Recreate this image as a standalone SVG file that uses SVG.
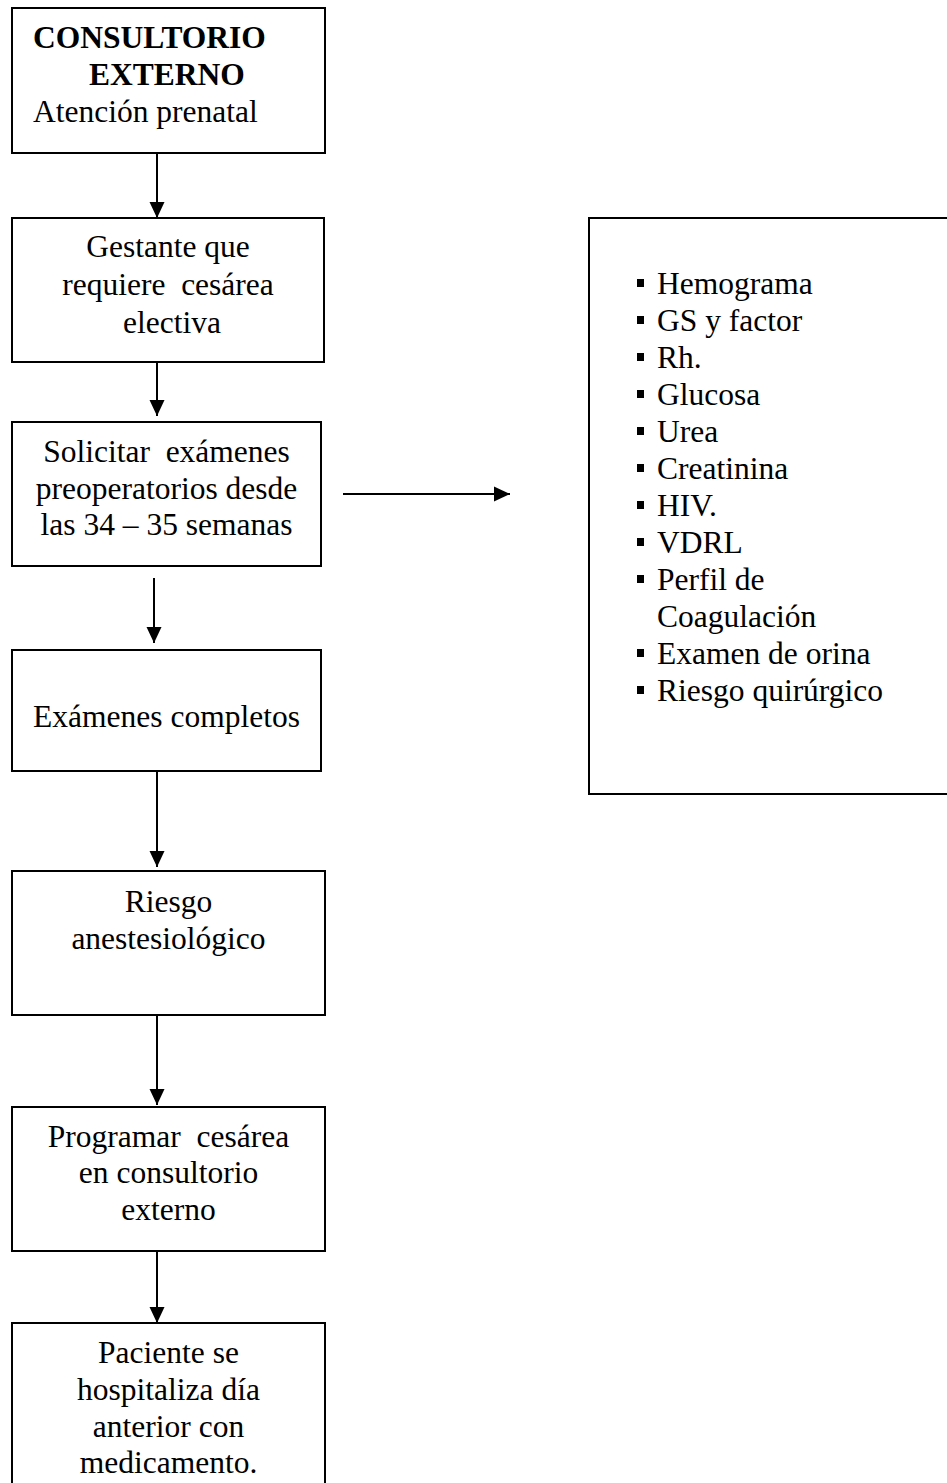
<svg xmlns="http://www.w3.org/2000/svg" width="947" height="1483" viewBox="0 0 947 1483">
<style>
.box{fill:#fff;stroke:#000;stroke-width:2}
.t{font-family:"Liberation Serif","Times New Roman",serif;font-size:31.5px;fill:#000}
.c{text-anchor:middle}
.b{font-weight:bold}
.con{stroke:#000;stroke-width:2;fill:none}
.bul{fill:#000}
</style>
<defs>
<marker id="ah" markerUnits="userSpaceOnUse" markerWidth="16" markerHeight="16" viewBox="0 0 16 16" refX="16" refY="8" orient="auto">
<path d="M0,0.5 L16,8 L0,15.5 z" fill="#000"/>
</marker>
</defs>
<rect width="947" height="1483" fill="#fff"/>
<g id="connectors">
<line class="con" x1="157" y1="153" x2="157" y2="218" marker-end="url(#ah)"/>
<line class="con" x1="157" y1="362" x2="157" y2="416" marker-end="url(#ah)"/>
<line class="con" x1="154" y1="578" x2="154" y2="643" marker-end="url(#ah)"/>
<line class="con" x1="157" y1="771" x2="157" y2="867" marker-end="url(#ah)"/>
<line class="con" x1="157" y1="1009" x2="157" y2="1105" marker-end="url(#ah)"/>
<line class="con" x1="157" y1="1251" x2="157" y2="1323" marker-end="url(#ah)"/>
<line class="con" x1="343" y1="494" x2="510" y2="494" marker-end="url(#ah)"/>
</g>
<g id="n1">
<rect class="box" x="12" y="8" width="313" height="145"/>
<text class="t b" x="33" y="48">CONSULTORIO</text>
<text class="t b" x="89" y="85">EXTERNO</text>
<text class="t" x="33" y="122">Atención prenatal</text>
</g>
<g id="n2">
<rect class="box" x="12" y="218" width="312" height="144"/>
<text class="t c" x="168" y="257">Gestante que</text>
<text class="t c" x="168" y="295" xml:space="preserve">requiere  cesárea</text>
<text class="t c" x="172" y="333">electiva</text>
</g>
<g id="n3">
<rect class="box" x="12" y="422" width="309" height="144"/>
<text class="t c" x="166.5" y="462" xml:space="preserve">Solicitar  exámenes</text>
<text class="t c" x="166.5" y="499">preoperatorios desde</text>
<text class="t c" x="166.5" y="535">las 34 – 35 semanas</text>
</g>
<g id="n4">
<rect class="box" x="12" y="650" width="309" height="121"/>
<text class="t c" x="166.5" y="727">Exámenes completos</text>
</g>
<g id="n5">
<rect class="box" x="12" y="871" width="313" height="144"/>
<text class="t c" x="168.5" y="912">Riesgo</text>
<text class="t c" x="168.5" y="949">anestesiológico</text>
</g>
<g id="n6">
<rect class="box" x="12" y="1107" width="313" height="144"/>
<text class="t c" x="168.5" y="1147" xml:space="preserve">Programar  cesárea</text>
<text class="t c" x="168.5" y="1183">en consultorio</text>
<text class="t c" x="168.5" y="1220">externo</text>
</g>
<g id="n7">
<rect class="box" x="12" y="1323" width="313" height="200"/>
<text class="t c" x="168.5" y="1363">Paciente se</text>
<text class="t c" x="168.5" y="1400">hospitaliza día</text>
<text class="t c" x="168.5" y="1437">anterior con</text>
<text class="t c" x="168.5" y="1473">medicamento.</text>
</g>
<g id="n8">
<rect class="box" x="589" y="218" width="400" height="576"/>
<rect class="bul" x="637" y="279" width="7" height="8"/>
<text class="t" x="657" y="294">Hemograma</text>
<rect class="bul" x="637" y="316" width="7" height="8"/>
<text class="t" x="657" y="331">GS y factor</text>
<rect class="bul" x="637" y="353" width="7" height="8"/>
<text class="t" x="657" y="368">Rh.</text>
<rect class="bul" x="637" y="390" width="7" height="8"/>
<text class="t" x="657" y="405">Glucosa</text>
<rect class="bul" x="637" y="427" width="7" height="8"/>
<text class="t" x="657" y="442">Urea</text>
<rect class="bul" x="637" y="464" width="7" height="8"/>
<text class="t" x="657" y="479">Creatinina</text>
<rect class="bul" x="637" y="501" width="7" height="8"/>
<text class="t" x="657" y="516">HIV.</text>
<rect class="bul" x="637" y="538" width="7" height="8"/>
<text class="t" x="657" y="553">VDRL</text>
<rect class="bul" x="637" y="575" width="7" height="8"/>
<text class="t" x="657" y="590">Perfil de</text>
<text class="t" x="657" y="627">Coagulación</text>
<rect class="bul" x="637" y="649" width="7" height="8"/>
<text class="t" x="657" y="664">Examen de orina</text>
<rect class="bul" x="637" y="686" width="7" height="8"/>
<text class="t" x="657" y="701">Riesgo quirúrgico</text>
</g>
</svg>
